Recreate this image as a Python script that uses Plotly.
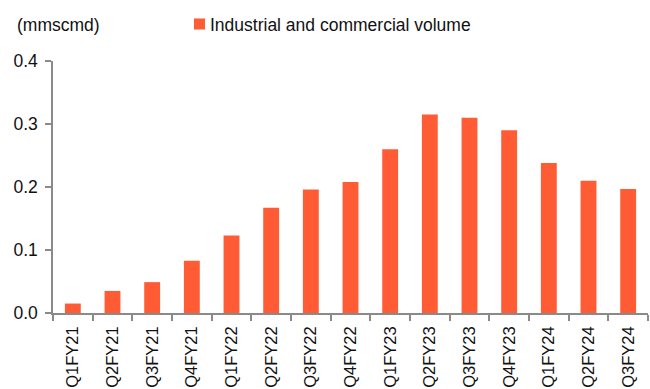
import plotly.graph_objects as go

# Quarterly industrial & commercial gas volume (mmscmd)
quarters = ["Q1FY21", "Q2FY21", "Q3FY21", "Q4FY21", "Q1FY22", "Q2FY22", "Q3FY22",
            "Q4FY22", "Q1FY23", "Q2FY23", "Q3FY23", "Q4FY23", "Q1FY24", "Q2FY24", "Q3FY24"]
volume = [0.015, 0.035, 0.049, 0.083, 0.123, 0.167, 0.196,
          0.208, 0.260, 0.315, 0.310, 0.290, 0.238, 0.210, 0.197]
series_name = "Industrial and commercial volume"
unit_label = "(mmscmd)"
y_ticks = [0.0, 0.1, 0.2, 0.3, 0.4]

BAR_COLOR = "#FF5B35"
AXIS_COLOR = "#8a8a8a"
FONT = "Liberation Sans, Arial, sans-serif"
TEXT_COLOR = "#111111"

W, H = 650, 389
M_L, M_R, M_T, M_B = 53, 2, 61, 76
PLOT_W = W - M_L - M_R
PLOT_H = H - M_T - M_B


def px_to_paper(px, py):
    """Canvas pixel position -> paper coordinates of the plot area."""
    return (px - M_L) / PLOT_W, (H - M_B - py) / PLOT_H


fig = go.Figure()
fig.add_trace(go.Bar(
    x=quarters, y=volume, name=series_name,
    marker=dict(color=BAR_COLOR, line=dict(width=0)),
    showlegend=False,
))

fig.update_layout(
    width=W, height=H,
    margin=dict(l=M_L, r=M_R, t=M_T, b=M_B),
    paper_bgcolor="white", plot_bgcolor="white",
    bargap=0.6,
    font=dict(family=FONT, size=17, color=TEXT_COLOR),
    xaxis=dict(
        type="category", tickangle=-90, tickson="boundaries",
        ticks="outside", ticklen=6, tickcolor=AXIS_COLOR, tickwidth=1.5,
        showline=True, linecolor=AXIS_COLOR, linewidth=1.5,
        showgrid=False, zeroline=False,
        tickfont=dict(family=FONT, size=16.5, color=TEXT_COLOR),
        ticklabelstandoff=5,
    ),
    yaxis=dict(
        range=[0, 0.4], tickvals=y_ticks, tickformat=".1f",
        ticks="outside", ticklen=6, tickcolor=AXIS_COLOR, tickwidth=1.5,
        showline=True, linecolor=AXIS_COLOR, linewidth=1.5,
        showgrid=False, zeroline=False,
        tickfont=dict(family=FONT, size=17.5, color=TEXT_COLOR),
        ticklabelstandoff=4,
    ),
)

# Unit label and legend key on the header line
ux, uy = px_to_paper(15, 25)
fig.add_annotation(
    x=ux, y=uy, xref="paper", yref="paper",
    xanchor="left", yanchor="middle", showarrow=False,
    text=unit_label, font=dict(family=FONT, size=17.5, color=TEXT_COLOR),
)
kx0, ky0 = px_to_paper(194, 29.5)
kx1, ky1 = px_to_paper(205, 18.5)
fig.add_shape(
    type="rect", xref="paper", yref="paper",
    x0=kx0, x1=kx1, y0=ky0, y1=ky1,
    fillcolor=BAR_COLOR, line=dict(width=0),
)
lx, ly = px_to_paper(208, 25)
fig.add_annotation(
    x=lx, y=ly, xref="paper", yref="paper",
    xanchor="left", yanchor="middle", showarrow=False,
    text=series_name, font=dict(family=FONT, size=17.5, color=TEXT_COLOR),
)

fig.write_html("out.html")
